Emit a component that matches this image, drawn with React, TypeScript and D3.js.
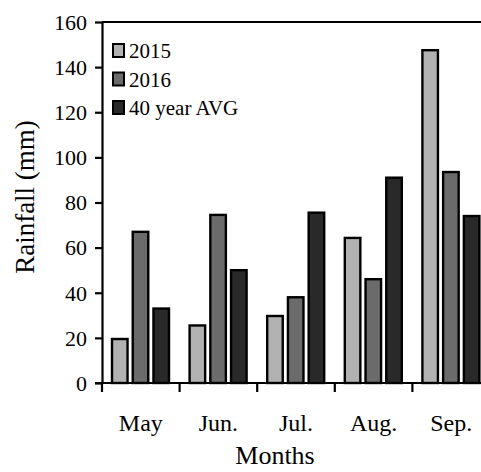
import React, { useEffect, useRef } from 'react';
import * as d3 from 'd3';

const months = ['May', 'Jun.', 'Jul.', 'Aug.', 'Sep.'];
const seriesNames = ['2015', '2016', '40 year AVG'];
const rain2015 = [19.5, 25.5, 29.7, 64.3, 147.5];
const rain2016 = [67, 74.5, 38, 46, 93.5];
const rainAvg = [33, 50, 75.5, 91, 74];
const yTicks = [0, 20, 40, 60, 80, 100, 120, 140, 160];
const colors = ['#b2b2b2', '#6b6b6b', '#292929'];

const App = () => {
  const ref = useRef<SVGSVGElement>(null);

  useEffect(() => {
    const svg = d3.select(ref.current);
    svg.selectAll('*').remove();
    const font = '"Liberation Serif", "Times New Roman", serif';

    const left = 102;
    const right = 490;
    const top = 22;
    const bottom = 383;

    const x = d3.scaleBand().domain(months).range([left, right]).padding(0);
    const sub = d3.scaleBand().domain(seriesNames).range([10, 67]).paddingInner(0.25);
    const y = d3.scaleLinear().domain([0, 160]).range([bottom, top]);

    const values = [rain2015, rain2016, rainAvg];

    // bars
    const groups = svg.selectAll('g.month')
      .data(months)
      .enter()
      .append('g')
      .attr('transform', (m) => `translate(${x(m)},0)`);

    seriesNames.forEach((s, si) => {
      groups.append('rect')
        .attr('x', sub(s)!)
        .attr('y', (m, i) => y(values[si][i]))
        .attr('width', sub.bandwidth())
        .attr('height', (m, i) => bottom - y(values[si][i]))
        .attr('fill', colors[si])
        .attr('stroke', '#000')
        .attr('stroke-width', 2.4);
    });

    // frame top line
    svg.append('line')
      .attr('x1', left).attr('x2', right)
      .attr('y1', top).attr('y2', top)
      .attr('stroke', '#000').attr('stroke-width', 2);

    // y axis
    const yAxis = svg.append('g')
      .attr('transform', `translate(${left},0)`)
      .call(d3.axisLeft(y).tickValues(yTicks).tickSize(7).tickSizeOuter(0).tickPadding(8));
    yAxis.select('.domain').attr('stroke-width', 2.2);
    yAxis.selectAll('line').attr('stroke-width', 2.2);
    yAxis.selectAll('text')
      .attr('font-family', font)
      .attr('font-size', 22)
      .attr('fill', '#000')
      .attr('dy', '0.33em');

    // x axis
    svg.append('line')
      .attr('x1', left - 7).attr('x2', right)
      .attr('y1', bottom).attr('y2', bottom)
      .attr('stroke', '#000').attr('stroke-width', 2.2);
    const edges = months.map((m) => x(m)!).concat([x.range()[1]]);
    svg.selectAll('line.xtick')
      .data(edges)
      .enter()
      .append('line')
      .attr('x1', (d) => d).attr('x2', (d) => d)
      .attr('y1', bottom).attr('y2', bottom + 9)
      .attr('stroke', '#000').attr('stroke-width', 2.2);
    svg.selectAll('text.month')
      .data(months)
      .enter()
      .append('text')
      .attr('x', (m) => x(m)! + x.bandwidth() / 2)
      .attr('y', 431)
      .attr('text-anchor', 'middle')
      .attr('font-family', font)
      .attr('font-size', 24)
      .text((m) => m);

    // axis titles
    svg.append('text')
      .attr('transform', `translate(34,197) rotate(-90)`)
      .attr('text-anchor', 'middle')
      .attr('font-family', font)
      .attr('font-size', 27)
      .text('Rainfall (mm)');
    svg.append('text')
      .attr('x', 275)
      .attr('y', 464)
      .attr('text-anchor', 'middle')
      .attr('font-family', font)
      .attr('font-size', 26)
      .text('Months');

    // legend
    const legend = svg.append('g').attr('transform', 'translate(113,44)');
    const rows = legend.selectAll('g')
      .data(seriesNames)
      .enter()
      .append('g')
      .attr('transform', (d, i) => `translate(0,${i * 28.5})`);
    rows.append('rect')
      .attr('width', 11).attr('height', 13)
      .attr('fill', (d, i) => colors[i])
      .attr('stroke', '#000').attr('stroke-width', 2);
    rows.append('text')
      .attr('x', 16)
      .attr('y', 14)
      .attr('font-family', font)
      .attr('font-size', 21)
      .text((d) => d);
  }, []);

  return (
    <svg ref={ref} width={481} height={472}
      style={{ position: 'absolute', left: 0, top: 0, background: '#fff' }} />
  );
};

export default App;
